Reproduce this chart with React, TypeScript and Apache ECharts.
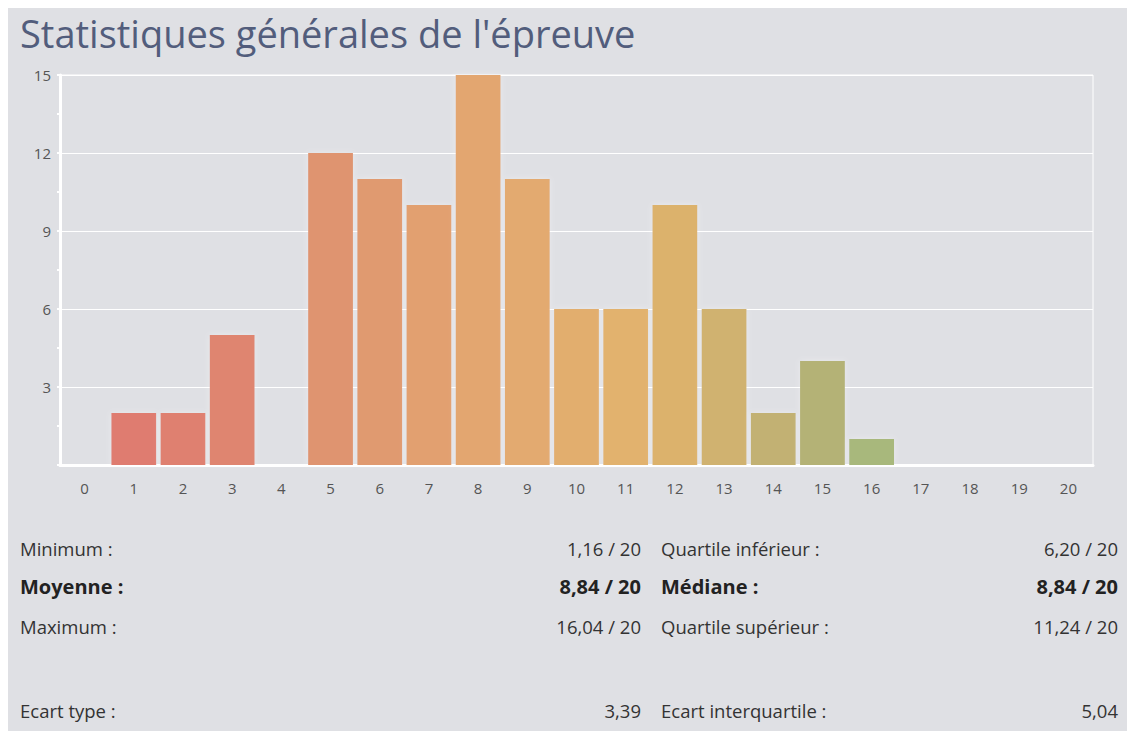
import React, { useEffect, useRef } from "react";
import * as echarts from "echarts";

const categories = ["0","1","2","3","4","5","6","7","8","9","10","11","12","13","14","15","16","17","18","19","20"];
const counts = [0, 2, 2, 5, 0, 12, 11, 10, 15, 11, 6, 6, 10, 6, 2, 4, 1, 0, 0, 0, 0];
const yTicks = [3, 6, 9, 12, 15];
const titleText = "Statistiques générales de l'épreuve";
const statsLeftLabels = ["Minimum :", "Moyenne :", "Maximum :", "Ecart type :"];
const statsLeftValues = ["1,16 / 20", "8,84 / 20", "16,04 / 20", "3,39"];
const statsRightLabels = ["Quartile inférieur :", "Médiane :", "Quartile supérieur :", "Ecart interquartile :"];
const statsRightValues = ["6,20 / 20", "8,84 / 20", "11,24 / 20", "5,04"];
const statsBold = [false, true, false, false];

// colour ramp (style only)
const rampStops: [number, number[]][] = [
  [1, [223, 123, 112]],
  [3, [223, 133, 112]],
  [5, [223, 148, 112]],
  [8, [227, 166, 111]],
  [11, [226, 178, 110]],
  [12, [220, 178, 108]],
  [13, [208, 178, 111]],
  [14, [194, 177, 115]],
  [15, [180, 178, 118]],
  [16, [168, 184, 123]],
];
function rampColor(i: number): string {
  if (i <= rampStops[0][0]) return `rgb(${rampStops[0][1].join(",")})`;
  for (let k = 0; k < rampStops.length - 1; k++) {
    const [a, ca] = rampStops[k];
    const [b, cb] = rampStops[k + 1];
    if (i >= a && i <= b) {
      const t = (i - a) / (b - a);
      const c = ca.map((v, j) => Math.round(v + (cb[j] - v) * t));
      return `rgb(${c.join(",")})`;
    }
  }
  const last = rampStops[rampStops.length - 1][1];
  return `rgb(${last.join(",")})`;
}

export default function App() {
  const ref = useRef<HTMLDivElement>(null);
  useEffect(() => {
    if (!ref.current) return;
    const chart = echarts.init(ref.current, undefined, { renderer: "svg" });
    const font = "'Open Sans', 'Noto Sans', sans-serif";
    const rowY = [540, 578, 618, 702];
    const graphics: any[] = [
      {
        type: "text",
        x: 12,
        y: 25,
        style: { text: titleText, font: `normal 38px ${font}`, fill: "#525d7c", align: "left", verticalAlign: "middle" },
      },
    ];
    statsLeftLabels.forEach((lab, i) => {
      const bold = statsBold[i];
      const fs = bold ? 20 : 18.5;
      const fw = bold ? "bold" : "normal";
      const color = bold ? "#222" : "#333";
      const f = `${fw} ${fs}px ${font}`;
      graphics.push({ type: "text", x: 12, y: rowY[i], style: { text: lab, font: f, fill: color, align: "left", verticalAlign: "middle" } });
      graphics.push({ type: "text", x: 633, y: rowY[i], style: { text: statsLeftValues[i], font: f, fill: color, align: "right", verticalAlign: "middle" } });
      graphics.push({ type: "text", x: 653, y: rowY[i], style: { text: statsRightLabels[i], font: f, fill: color, align: "left", verticalAlign: "middle" } });
      graphics.push({ type: "text", x: 1110, y: rowY[i], style: { text: statsRightValues[i], font: f, fill: color, align: "right", verticalAlign: "middle" } });
    });
    chart.setOption({
      animation: false,
      backgroundColor: "#dfe0e4",
      textStyle: { fontFamily: font },
      grid: {
        left: 52,
        right: 42,
        top: 67,
        bottom: 266,
        show: true,
        borderColor: "#ffffff",
        borderWidth: 1,
        backgroundColor: "transparent",
      },
      xAxis: {
        type: "category",
        data: categories,
        boundaryGap: true,
        axisLine: { lineStyle: { color: "#ffffff", width: 3 } },
        axisTick: { show: false },
        axisLabel: { color: "#555", fontSize: 15, margin: 15, interval: 0 },
        splitLine: { show: false },
      },
      yAxis: {
        type: "value",
        min: 0,
        max: 15,
        interval: 3,
        axisLine: { show: true, lineStyle: { color: "#ffffff", width: 3 } },
        axisTick: { show: true, length: 3, lineStyle: { color: "#ffffff", width: 2 } },
        minorTick: { show: true, splitNumber: 2, length: 3, lineStyle: { color: "#ffffff", width: 2 } },
        axisLabel: {
          color: "#555",
          fontSize: 15,
          margin: 9,
          formatter: (v: number) => (yTicks.includes(v) ? String(v) : ""),
        },
        splitLine: { lineStyle: { color: "#ffffff", width: 1 } },
      },
      series: [
        {
          type: "bar",
          barCategoryGap: "9%",
          data: counts.map((v, i) => ({
            value: v,
            itemStyle: {
              color: rampColor(i),
              shadowColor: "rgba(255,255,255,0.35)",
              shadowBlur: 6,
            },
          })),
        },
      ],
      graphic: graphics,
    });
    return () => chart.dispose();
  }, []);
  return <div ref={ref} style={{ width: 1127, height: 723 }} />;
}
